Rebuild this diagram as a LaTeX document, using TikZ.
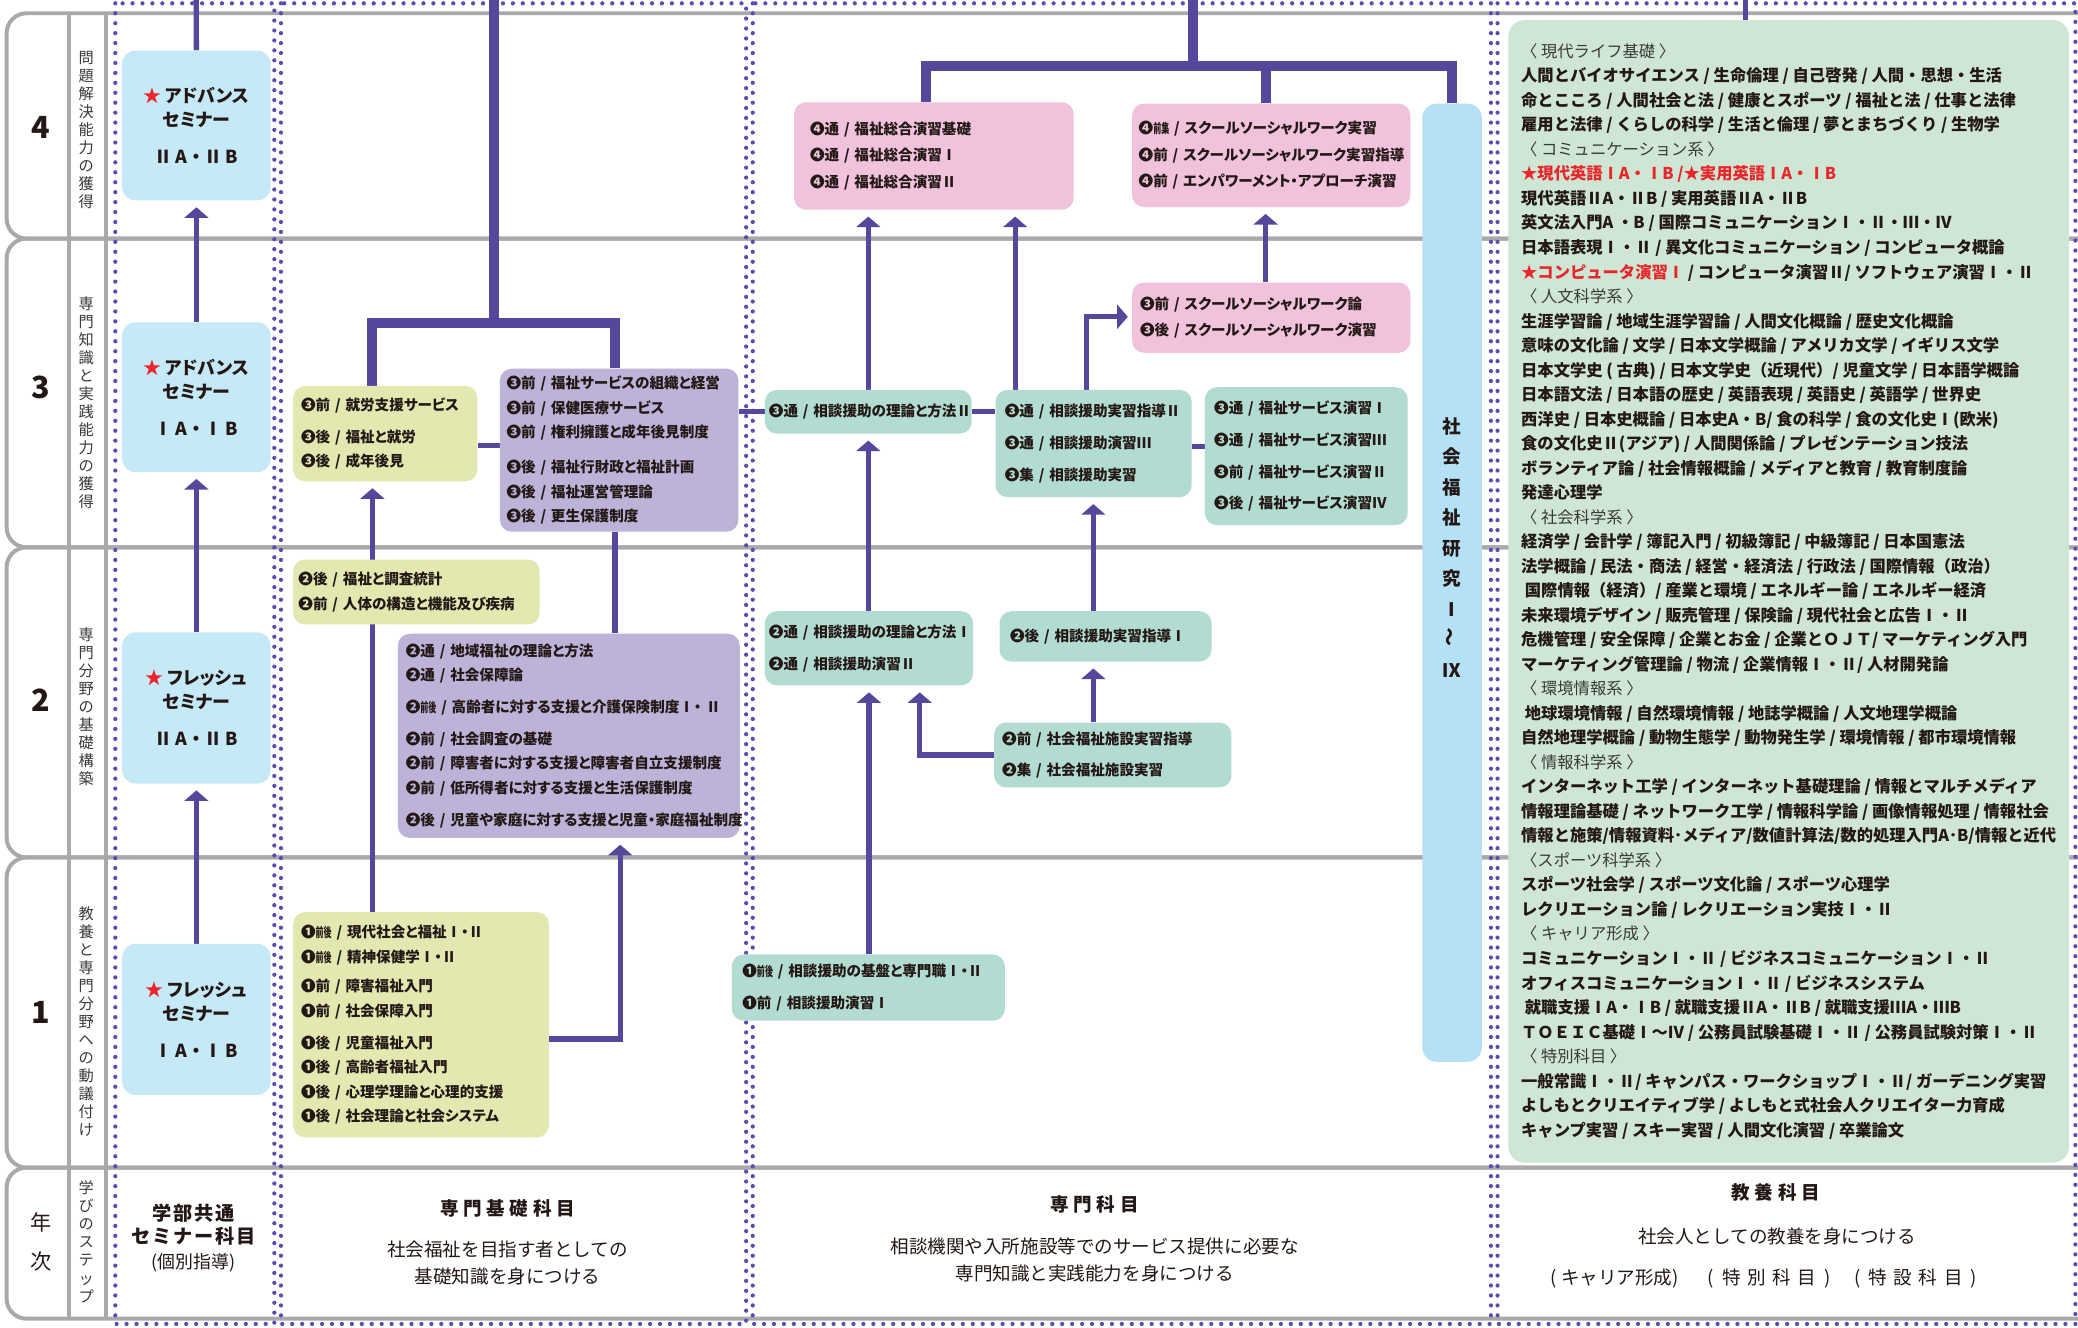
\documentclass[tikz,border=0pt]{standalone}
\usepackage{fontspec}
\usepackage{graphicx}
\usepackage{xcolor}
\setmainfont{Noto Sans CJK JP}
\newfontfamily\pfont[RawFeature=+palt]{Noto Sans CJK JP}
\usetikzlibrary{arrows.meta}
\pgfdeclarelayer{bg}
\pgfsetlayers{bg,main}

\definecolor{ink}{HTML}{231815}
\definecolor{lnk}{HTML}{54479C}
\definecolor{dotc}{HTML}{5A4DB0}
\definecolor{framegray}{HTML}{A9A9AC}
\definecolor{semiblue}{HTML}{C6E9F8}
\definecolor{barblue}{HTML}{B5E1F6}
\definecolor{ygreen}{HTML}{E3E8B1}
\definecolor{lav}{HTML}{BDB3D8}
\definecolor{tealc}{HTML}{B2DCD2}
\definecolor{pinkc}{HTML}{F0C2DB}
\definecolor{greenc}{HTML}{CEE6D3}
\definecolor{starred}{HTML}{E8262C}
\definecolor{stepgray}{HTML}{3A3A3A}

\newcommand{\hanw}[1]{\scalebox{0.55}[0.9]{#1}}
\newcommand{\grp}[1]{{\mdseries\color{stepgray}#1}}
\newcommand{\semno}[1]{#1\kern2.5pt A\kern3pt・\kern3pt#1\kern2.5pt B}

\tikzset{
  frame/.style={draw=framegray, line width=3pt},
  dots/.style={draw=dotc, line width=3.2pt, line cap=round, dash pattern=on 0pt off 7.5pt},
  link/.style={draw=lnk, line width=4pt},
  brk/.style={draw=lnk, line width=7.5pt},
  arr/.style={link, -{Triangle[width=18pt,length=8pt]}, shorten >=5pt},
  sz/.code n args={3}{\pgfmathsetmacro\bxw{#1-2*#3}\tikzset{minimum width=#1pt, minimum height=#2pt, inner xsep=#3pt, text width=\bxw pt}},
  box/.style={rounded corners=9pt, anchor=north west, inner ysep=0pt, align=left, text=ink, font=\pfont\fontsize{11}{18.5}\selectfont\bfseries},
  ybox/.style={box, fill=ygreen},
  pbox/.style={box, fill=lav},
  tbox/.style={box, fill=tealc, font=\pfont\fontsize{11}{24}\selectfont\bfseries},
  kbox/.style={box, fill=pinkc, font=\pfont\fontsize{11}{20}\selectfont\bfseries},
  semi/.style={rounded corners=10pt, fill=semiblue, anchor=north west, minimum width=112pt, minimum height=113pt, align=center, text=ink, font=\pfont\fontsize{13.5}{18}\selectfont\bfseries},
  gbox/.style={rounded corners=12pt, fill=greenc, anchor=north west, minimum width=423pt, minimum height=862pt, inner sep=0pt, align=left, text=ink, font=\fontsize{12.3}{18.5}\selectfont\bfseries},
  num/.style={text=ink, font=\fontsize{23}{23}\selectfont\bfseries},
  tate/.style={align=center, text=stepgray, inner sep=0pt, font=\fontsize{11.5}{13.6}\selectfont},
  ttl/.style={align=center, text=ink, font=\fontsize{14}{18}\selectfont\bfseries\addfontfeature{LetterSpace=25}},
  sub/.style={align=center, text=ink, font=\fontsize{14}{20.5}\selectfont},
}

\begin{document}
\begin{tikzpicture}[x=1pt, y=-1pt, line join=miter]
\useasboundingbox (0,0) rectangle (1568,1002);

% seminar column
\node[semi] (s4) at (92,38) {{\color{starred}★}~アドバンス\\セミナー\\[10pt]\semno{Ⅱ}};
\node[semi] (s3) at (92,243) {{\color{starred}★}~アドバンス\\セミナー\\[10pt]\semno{Ⅰ}};
\node[semi, minimum height=114pt] (s2) at (92,477) {{\color{starred}★}~フレッシュ\\セミナー\\[10pt]\semno{Ⅱ}};
\node[semi, minimum height=114pt] (s1) at (92,712) {{\color{starred}★}~フレッシュ\\セミナー\\[10pt]\semno{Ⅰ}};

% basic subjects
\node[ybox, sz={139}{72}{6}] (y3) at (221,291) {❸前~/~就労支援サービス\\[5.5pt]❸後~/~福祉と就労\\❸後~/~成年後見};
\node[pbox, sz={180}{123}{5}] (p3) at (377,278) {❸前~/~福祉サービスの組織と経営\\❸前~/~保健医療サービス\\❸前~/~権利擁護と成年後見制度\\[8pt]❸後~/~福祉行財政と福祉計画\\❸後~/~福祉運営管理論\\❸後~/~更生保護制度};
\node[ybox, sz={186}{49}{4}] (y2) at (221,422) {❷後~/~福祉と調査統計\\[1pt]❷前~/~人体の構造と機能及び疾病};
\node[pbox, sz={258}{154}{6}] (p2) at (300,478) {❷通~/~地域福祉の理論と方法\\❷通~/~社会保障論\\[5.5pt]❷\hanw{前後}~/~高齢者に対する支援と介護保険制度Ⅰ・~Ⅱ\\[5.5pt]❷前~/~社会調査の基礎\\❷前~/~障害者に対する支援と障害者自立支援制度\\❷前~/~低所得者に対する支援と生活保護制度\\[5.5pt]❷後~/~児童や家庭に対する支援と児童・家庭福祉制度};
\node[ybox, sz={193}{170}{6}] (y1) at (221,688) {❶\hanw{前後}~/~現代社会と福祉Ⅰ・Ⅱ\\❶\hanw{前後}~/~精神保健学Ⅰ・Ⅱ\\[4pt]❶前~/~障害福祉入門\\❶前~/~社会保障入門\\[5.5pt]❶後~/~児童福祉入門\\❶後~/~高齢者福祉入門\\❶後~/~心理学理論と心理的支援\\❶後~/~社会理論と社会システム};

% special subjects
\node[kbox, sz={211}{81}{12}] (k4a) at (599,77) {❹通~/~福祉総合演習基礎\\❹通~/~福祉総合演習Ⅰ\\❹通~/~福祉総合演習Ⅱ};
\node[kbox, sz={210}{78}{5}] (k4b) at (854,78) {❹\hanw{前集}~/~スクールソーシャルワーク実習\\❹前~/~スクールソーシャルワーク実習指導\\❹前~/~エンパワーメント・アプローチ演習};
\node[kbox, sz={210}{53}{6}] (k3) at (854,213) {❸前~/~スクールソーシャルワーク論\\❸後~/~スクールソーシャルワーク演習};
\node[tbox, sz={156}{33}{3}] (c3a) at (577,294) {❸通~/~相談援助の理論と方法Ⅱ};
\node[tbox, sz={148}{81}{7}] (c3b) at (751,294) {❸通~/~相談援助実習指導Ⅱ\\❸通~/~相談援助演習Ⅲ\\❸集~/~相談援助実習};
\node[tbox, sz={153}{104}{7}] (c3c) at (909,292) {❸通~/~福祉サービス演習Ⅰ\\❸通~/~福祉サービス演習Ⅲ\\❸前~/~福祉サービス演習Ⅱ\\❸後~/~福祉サービス演習Ⅳ};
\node[tbox, sz={157}{56}{3}] (c2a) at (577,461) {❷通~/~相談援助の理論と方法Ⅰ\\❷通~/~相談援助演習Ⅱ};
\node[tbox, sz={160}{38}{8}] (c2b) at (754,461) {❷後~/~相談援助実習指導Ⅰ};
\node[tbox, sz={179}{49}{6}] (c2c) at (750,545) {❷前~/~社会福祉施設実習指導\\❷集~/~社会福祉施設実習};
\node[tbox, sz={206}{50}{8}] (c1) at (552,720) {❶\hanw{前後}~/~相談援助の基盤と専門職Ⅰ・Ⅱ\\❶前~/~相談援助演習Ⅰ};
\node[rounded corners=11pt, fill=barblue, anchor=north west, minimum width=45pt, minimum height=723pt] (bar) at (1073,78) {};
\node[align=center, text=ink, font=\fontsize{14}{23}\selectfont\bfseries] (bartxt) at (1095.5,413) {社\\会\\福\\祉\\研\\究\\Ⅰ\\\rotatebox{90}{〜}\\Ⅸ};

% liberal arts
\node[gbox] (kyo) at (1138,15) {%
\grp{〈 現代ライフ基礎 〉}\\
人間とバイオサイエンス / 生命倫理 / 自己啓発 / 人間・思想・生活\\
命とこころ / 人間社会と法 / 健康とスポーツ / 福祉と法 / 仕事と法律\\
雇用と法律 / くらしの科学 / 生活と倫理 / 夢とまちづくり / 生物学\\
\grp{〈 コミュニケーション系 〉}\\
{\color{starred}★現代英語ⅠA・ⅠB /★実用英語ⅠA・ⅠB}\\
現代英語ⅡA・ⅡB / 実用英語ⅡA・ⅡB\\
英文法入門A ・B /  国際コミュニケーションⅠ・Ⅱ・Ⅲ・Ⅳ\\
日本語表現Ⅰ・Ⅱ / 異文化コミュニケーション / コンピュータ概論\\
{\color{starred}★コンピュータ演習Ⅰ} / コンピュータ演習Ⅱ/ ソフトウェア演習Ⅰ・Ⅱ\\
\grp{〈 人文科学系 〉}\\
生涯学習論 / 地域生涯学習論 / 人間文化概論 / 歴史文化概論\\
意味の文化論 / 文学 / 日本文学概論 / アメリカ文学 / イギリス文学\\
日本文学史 ( 古典) / 日本文学史（近現代）/ 児童文学 / 日本語学概論\\
日本語文法 / 日本語の歴史 / 英語表現 / 英語史 / 英語学 / 世界史\\
西洋史 / 日本史概論 / 日本史A・B/ 食の科学 / 食の文化史Ⅰ(欧米)\\
食の文化史Ⅱ(アジア) / 人間関係論 / プレゼンテーション技法\\
ボランティア論 / 社会情報概論 / メディアと教育 / 教育制度論\\
発達心理学\\
\grp{〈 社会科学系 〉}\\
経済学 / 会計学 / 簿記入門 / 初級簿記 / 中級簿記 / 日本国憲法\\
法学概論 / 民法・商法 / 経営・経済法 / 行政法 / 国際情報（政治）\\
\ 国際情報（経済）/ 産業と環境 / エネルギー論 / エネルギー経済\\
未来環境デザイン / 販売管理 / 保険論 / 現代社会と広告Ⅰ・Ⅱ\\
危機管理 / 安全保障 / 企業とお金 / 企業とＯＪＴ/ マーケティング入門\\
マーケティング管理論 / 物流 / 企業情報Ⅰ・Ⅱ/ 人材開発論\\
\grp{〈 環境情報系 〉}\\
\ 地球環境情報 / 自然環境情報 / 地誌学概論 / 人文地理学概論\\
自然地理学概論 / 動物生態学 / 動物発生学 / 環境情報 / 都市環境情報\\
\grp{〈 情報科学系 〉}\\
インターネット工学 / インターネット基礎理論 / 情報とマルチメディア\\
情報理論基礎 / ネットワーク工学 / 情報科学論 / 画像情報処理 / 情報社会\\
情報と施策/情報資料･メディア/数値計算法/数的処理入門A･B/情報と近代\\
\grp{〈スポーツ科学系 〉}\\
スポーツ社会学 / スポーツ文化論 / スポーツ心理学\\
レクリエーション論 / レクリエーション実技Ⅰ・Ⅱ\\
\grp{〈 キャリア形成 〉}\\
コミュニケーションⅠ・Ⅱ / ビジネスコミュニケーションⅠ・Ⅱ\\
オフィスコミュニケーションⅠ・Ⅱ / ビジネスシステム\\
\ 就職支援ⅠA・ⅠB / 就職支援ⅡA・ⅡB / 就職支援ⅢA・ⅢB\\
ＴＯＥＩＣ基礎Ⅰ〜Ⅳ / 公務員試験基礎Ⅰ・Ⅱ / 公務員試験対策Ⅰ・Ⅱ\\
\grp{〈 特別科目 〉}\\
一般常識Ⅰ・Ⅱ/ キャンパス・ワークショップⅠ・Ⅱ/ ガーデニング実習\\
よしもとクリエイティブ学 / よしもと式社会人クリエイター力育成\\
キャンプ実習 / スキー実習 / 人間文化演習 / 卒業論文};

% row and step labels
\node[num] (n4) at (31,96) {4};
\node[num] (n3) at (31,292) {3};
\node[num] (n2) at (31,528) {2};
\node[num] (n1) at (31,764) {1};
\node[align=center, text=ink, font=\fontsize{16}{30}\selectfont] (nen) at (31,937) {年\\次};
\node[tate] (st4) at (65,98) {問\\題\\解\\決\\能\\力\\の\\獲\\得};
\node[tate] (st3) at (65,304) {専\\門\\知\\識\\と\\実\\践\\能\\力\\の\\獲\\得};
\node[tate] (st2) at (65,533) {専\\門\\分\\野\\の\\基\\礎\\構\\築};
\node[tate] (st1) at (65,771) {教\\養\\と\\専\\門\\分\\野\\へ\\の\\動\\議\\付\\け};
\node[tate] (st0) at (65,937) {学\\び\\の\\ス\\テ\\ッ\\プ};

% bottom titles
\node[ttl, font=\fontsize{14.5}{17.5}\selectfont\bfseries\addfontfeature{LetterSpace=10}] (semt) at (146,924) {学部共通\\セミナー科目};
\node[sub, font=\fontsize{13.5}{18}\selectfont] (semk) at (146,953) {(個別指導)};
\node[ttl] (kisot) at (383,912) {専門基礎科目};
\node[sub] (kisos) at (383,953) {社会福祉を目指す者としての\\基礎知識を身につける};
\node[ttl] (senmt) at (826,909) {専門科目};
\node[sub] (senms) at (826,951) {相談機関や入所施設等でのサービス提供に必要な\\専門知識と実践能力を身につける};
\node[ttl] (kyot) at (1340,900) {教養科目};
\node[sub] (kyos) at (1341,933) {社会人としての教養を身につける};
\node[sub] (kyok) at (1331,965) {(\kern3ptキャリア形成)\hspace{22pt}(\kern6pt 特\kern5pt 別\kern5pt 科\kern5pt 目\kern6pt)\hspace{18pt}(\kern6pt 特\kern5pt 設\kern5pt 科\kern5pt 目\kern6pt)};

\coordinate (atop) at (148,0);
\coordinate (btop) at (373,0);
\coordinate (bl) at (281,244);
\coordinate (br) at (464,244);
\coordinate (yp) at (468,784);
\coordinate (rl) at (0,336);
\coordinate (rc) at (0,337);
\coordinate (ctop) at (900,0);
\coordinate (cl) at (699,50);
\coordinate (cr) at (1095.5,50);
\coordinate (cx1) at (766,0);
\coordinate (cx2) at (820,239);
\coordinate (cx3) at (955,0);
\coordinate (cx4) at (694,0);
\coordinate (cx5) at (825,0);
\coordinate (dtop) at (1317,0);

\begin{pgfonlayer}{bg}
  \fill[white] (0,0) rectangle (1568,1002);
  % grid of rows
  \foreach \t/\b in {10/180,180/413,413/647,647/881,881/995}
    \draw[frame, rounded corners=15pt] (1568,\t) -- (5,\t) -- (5,\b) -- (1568,\b);
  \draw[frame] (52,10) -- (52,995);
  \draw[frame] (80,10) -- (80,995);
  % columns
  \foreach \l/\r in {87/207,212/563,568/1125,1130/1566}
    \draw[dots] (\l,2.5) rectangle (\r,999);

  % seminar links
  \draw[link] (atop) -- (s4.north);
  \draw[arr] (s3.north) -- (s4.south);
  \draw[arr] (s2.north) -- (s3.south);
  \draw[arr] (s1.north) -- (s2.south);

  % basic links
  \draw[brk] (btop) -- (btop |- bl);
  \draw[brk] (y3.north -| bl) -- (bl) -- (br) -- (p3.north -| br);
  \draw[link] (y3.east |- rl) -- (p3.west |- rl);
  \draw[link] (p3.east |- c3a.west) -- (c3a.west);
  \draw[arr] (y1.north -| bl) -- (y3.south -| bl);
  \draw[link] (p3.south -| br) -- (p2.north -| br);
  \draw[arr] (y1.east |- yp) -| (yp |- p2.south);

  % special links
  \draw[brk] (ctop) -- (ctop |- cl);
  \draw[brk] (k4a.north -| cl) -- (cl) -- (cr) -- (bar.north -| cr);
  \draw[brk] (k4b.north -| cx3) -- (cx3 |- cl);
  \draw[link] (c3a.east) -- (c3b.west |- c3a.east);
  \draw[link] (c3b.east |- rc) -- (c3c.west |- rc);
  \draw[arr] (c3a.north) -- (k4a.south -| c3a.north);
  \draw[arr] (c3b.north -| cx1) -- (k4a.south -| cx1);
  \draw[arr, shorten >=3pt] (c3b.north -| cx2) |- (k3.west |- cx2);
  \draw[arr] (k3.north -| cx3) -- (k4b.south -| cx3);
  \draw[arr] (c2a.north -| c3a.south) -- (c3a.south);
  \draw[arr] (c1.north -| c2a.south) -- (c2a.south);
  \draw[arr] (c2c.west) -| (c2a.south -| cx4);
  \draw[arr] (c2c.north -| cx5) -- (c2b.south -| cx5);
  \draw[arr] (c2b.north -| cx5) -- (c3b.south -| cx5);

  % liberal arts link
  \draw[link, line width=3.2pt] (dtop) -- (dtop |- kyo.north);
\end{pgfonlayer}
\end{tikzpicture}
\end{document}
